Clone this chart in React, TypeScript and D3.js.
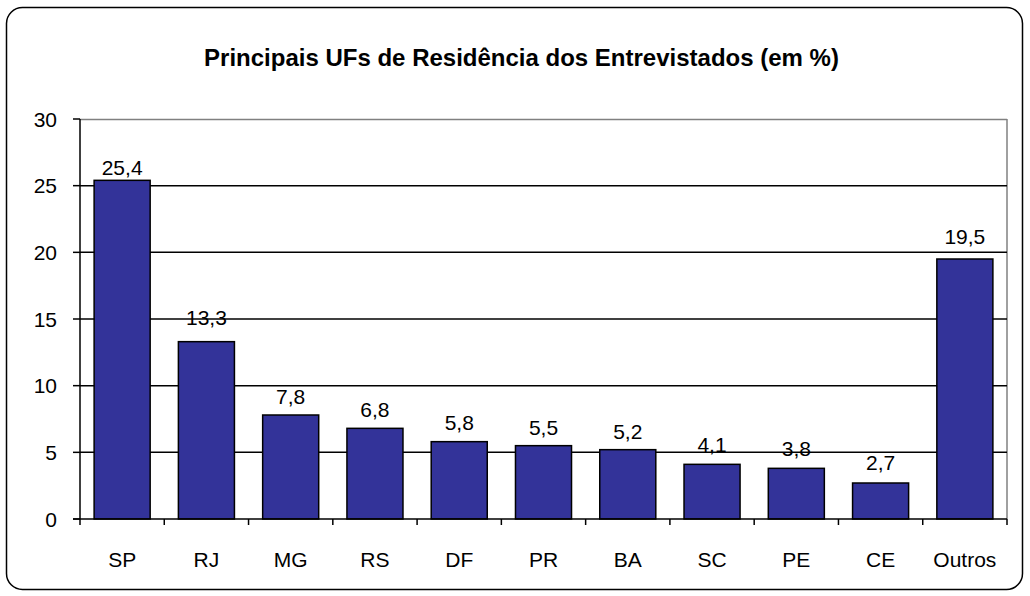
import React from "react";
import * as d3 from "d3";

const categories = ["SP", "RJ", "MG", "RS", "DF", "PR", "BA", "SC", "PE", "CE", "Outros"];
const values = [25.4, 13.3, 7.8, 6.8, 5.8, 5.5, 5.2, 4.1, 3.8, 2.7, 19.5];
const yTicks = [0, 5, 10, 15, 20, 25, 30];
const title = "Principais UFs de Residência dos Entrevistados (em %)";

// vertical gap (px) between each bar top and its value label baseline, as placed in the original
const labelGaps = [5, 17, 11, 11, 12, 11, 11, 12, 12, 13, 15];

const W = 1030, H = 596;
const plot = { left: 80, right: 1007, top: 119, bottom: 519 };
const font = "'Liberation Sans', Arial, sans-serif";

export default function App() {
  const x = d3.scaleBand<string>().domain(categories).range([plot.left, plot.right]).paddingInner(0.335).paddingOuter(0.1675);
  const xOuter = d3.scaleBand<string>().domain(categories).range([plot.left, plot.right]);
  const y = d3.scaleLinear().domain([0, 30]).range([plot.bottom, plot.top]);
  const fmt = (v: number) => v.toFixed(1).replace(".", ",");
  return (
    <svg width={W} height={H} style={{ position: "absolute", left: 0, top: 0 }}>
      <rect x={0} y={0} width={W} height={H} fill="#fff" />
      <rect x={6.5} y={7.5} width={1016} height={582} rx={16} ry={16} fill="#fff" stroke="#000" strokeWidth={1.5} />
      <text x={521.5} y={66} textAnchor="middle" fontFamily={font} fontWeight="bold" fontSize={24}>{title}</text>
      <line x1={plot.left} x2={plot.right} y1={plot.top + 0.5} y2={plot.top + 0.5} stroke="#808080" strokeWidth={1.5} />
      <line x1={plot.right} x2={plot.right} y1={plot.top} y2={plot.bottom} stroke="#808080" strokeWidth={1.5} />
      {yTicks.filter(t => t > 0 && t < 30).map(t => (
        <line key={t} x1={plot.left} x2={plot.right} y1={y(t)} y2={y(t)} stroke="#000" strokeWidth={1.5} />
      ))}
      {categories.map((c, i) => (
        <rect key={c} x={x(c)!} y={y(values[i])} width={x.bandwidth()} height={y(0) - y(values[i])} fill="#333399" stroke="#000" strokeWidth={1.5} />
      ))}
      <line x1={plot.left} x2={plot.left} y1={plot.top} y2={plot.bottom} stroke="#000" strokeWidth={1.5} />
      {yTicks.map(t => (
        <g key={t}>
          <line x1={plot.left - 7} x2={plot.left} y1={y(t)} y2={y(t)} stroke="#000" strokeWidth={1.5} />
          <text x={plot.left - 23} y={y(t) + 7.5} textAnchor="end" fontFamily={font} fontSize={21}>{t}</text>
        </g>
      ))}
      <line x1={plot.left - 7} x2={plot.right} y1={plot.bottom} y2={plot.bottom} stroke="#000" strokeWidth={1.5} />
      {categories.map(c => (
        <line key={c} x1={xOuter(c)!} x2={xOuter(c)!} y1={plot.bottom} y2={plot.bottom + 6} stroke="#000" strokeWidth={1.5} />
      ))}
      <line x1={plot.right} x2={plot.right} y1={plot.bottom} y2={plot.bottom + 6} stroke="#000" strokeWidth={1.5} />
      {categories.map(c => (
        <text key={c} x={x(c)! + x.bandwidth() / 2} y={567} textAnchor="middle" fontFamily={font} fontSize={21}>{c}</text>
      ))}
      {categories.map((c, i) => (
        <text key={c} x={x(c)! + x.bandwidth() / 2} y={y(values[i]) - labelGaps[i]} textAnchor="middle" fontFamily={font} fontSize={21}>{fmt(values[i])}</text>
      ))}
    </svg>
  );
}
